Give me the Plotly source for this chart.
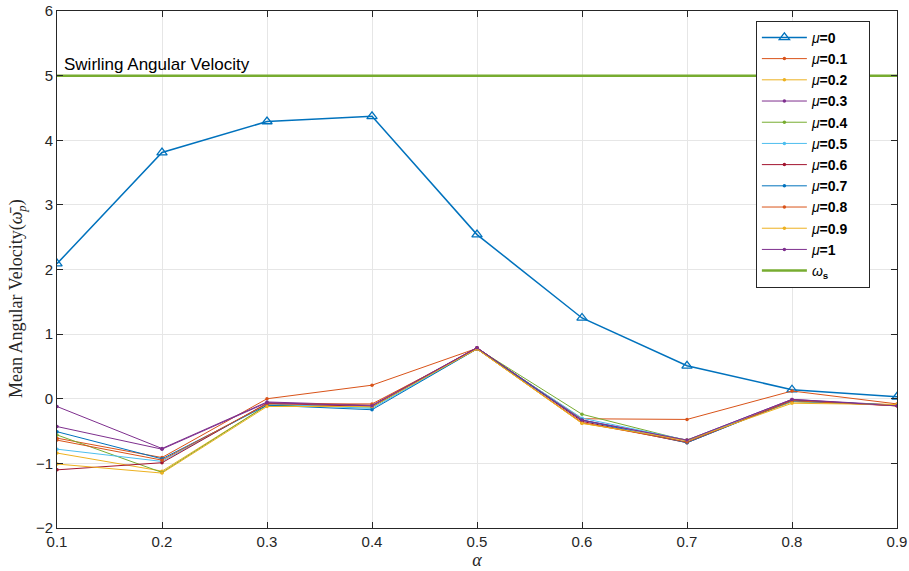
import plotly.graph_objects as go

alpha = [0.1, 0.2, 0.3, 0.4, 0.5, 0.6, 0.7, 0.8, 0.9]
mu_labels = ["0", "0.1", "0.2", "0.3", "0.4", "0.5", "0.6", "0.7", "0.8", "0.9", "1"]
series = [
    [2.09, 3.81, 4.29, 4.37, 2.54, 1.25, 0.51, 0.14, 0.03],
    [-0.61, -0.91, 0.0, 0.21, 0.78, -0.31, -0.32, 0.12, -0.08],
    [-0.84, -1.12, -0.10, -0.12, 0.77, -0.38, -0.65, -0.05, -0.09],
    [-0.12, -0.77, -0.05, -0.10, 0.79, -0.33, -0.64, -0.01, -0.10],
    [-0.56, -1.14, -0.10, -0.13, 0.78, -0.24, -0.65, -0.04, -0.10],
    [-0.78, -0.97, -0.08, -0.15, 0.77, -0.30, -0.64, -0.04, -0.10],
    [-1.10, -0.99, -0.07, -0.12, 0.79, -0.35, -0.68, -0.02, -0.11],
    [-0.51, -0.93, -0.10, -0.17, 0.77, -0.33, -0.68, -0.03, -0.10],
    [-0.64, -0.95, -0.08, -0.08, 0.77, -0.37, -0.67, -0.03, -0.11],
    [-1.01, -1.15, -0.12, -0.12, 0.77, -0.38, -0.64, -0.07, -0.09],
    [-0.43, -0.78, -0.06, -0.11, 0.79, -0.33, -0.64, -0.01, -0.11],
]
omega_s = [5, 5, 5, 5, 5, 5, 5, 5, 5]
colors = ["#0072BD", "#D95319", "#EDB120", "#7E2F8E", "#77AC30", "#4DBEEE",
          "#A2142F", "#0072BD", "#D95319", "#EDB120", "#7E2F8E"]

fig = go.Figure()
for i, (lab, vals) in enumerate(zip(mu_labels, series)):
    name = "<i>μ</i><b>=" + lab + "</b>"
    if lab == "0.1":
        name += "&nbsp;&nbsp;&nbsp;&nbsp;"
    if i == 0:
        fig.add_trace(go.Scatter(
            x=alpha, y=vals, mode="lines+markers", name=name,
            line=dict(color=colors[i], width=1.5),
            marker=dict(symbol="triangle-up-open", size=9, color=colors[i],
                        line=dict(width=1.3, color=colors[i]))))
    else:
        fig.add_trace(go.Scatter(
            x=alpha, y=vals, mode="lines+markers", name=name,
            line=dict(color=colors[i], width=1),
            marker=dict(symbol="circle", size=3.5, color=colors[i])))

fig.add_trace(go.Scatter(
    x=alpha, y=omega_s, mode="lines", name="<i>ω</i><sub><b>s</b></sub>",
    line=dict(color="#77AC30", width=2.5)))

fig.add_annotation(x=0.1, y=5, xref="x", yref="y", text="Swirling Angular Velocity",
                   showarrow=False, xanchor="left", yanchor="bottom", xshift=5, yshift=0,
                   font=dict(family="Liberation Sans, Arial, sans-serif", size=17, color="#000"))

# y-axis title (placed as rotated text, as in the reference it sits slightly below centre)
fig.add_annotation(x=-0.0464, y=0.443, xref="paper", yref="paper",
                   text="Mean Angular Velocity(<i>ω̄</i><sub><i>p</i></sub>)",
                   showarrow=False, textangle=-90, xanchor="center", yanchor="middle",
                   font=dict(family="Liberation Serif, serif", size=18, color="#262626"))

axis_common = dict(showline=True, linecolor="#262626", linewidth=1, mirror="allticks",
                   ticks="inside", ticklen=6, tickcolor="#262626", showgrid=True,
                   gridcolor="#e6e6e6", gridwidth=1, zeroline=False, automargin=False,
                   tickfont=dict(family="Liberation Sans, Arial, sans-serif", size=15, color="#262626"))

fig.update_xaxes(range=[0.1, 0.9], tickvals=alpha,
                 ticktext=[str(a) for a in alpha],
                 title=dict(text="<i>α</i>", standoff=2,
                            font=dict(family="Liberation Serif, serif", size=18, color="#262626")),
                 **axis_common)
fig.update_yaxes(range=[-2, 6], tickvals=[-2, -1, 0, 1, 2, 3, 4, 5, 6],
                 **axis_common)

fig.update_layout(
    width=909, height=571,
    margin=dict(l=57, r=12, t=11, b=43),
    plot_bgcolor="white", paper_bgcolor="white",
    legend=dict(x=0.832, y=0.981, xanchor="left", yanchor="top",
                bgcolor="white", bordercolor="#262626", borderwidth=1,
                font=dict(family="Liberation Sans, Arial, sans-serif", size=14, color="#000"),
                itemwidth=45, tracegroupgap=0),
)

fig.write_html("out.html", config={"displayModeBar": False},
               post_script="document.body.style.margin='0';document.body.style.overflow='hidden';")
